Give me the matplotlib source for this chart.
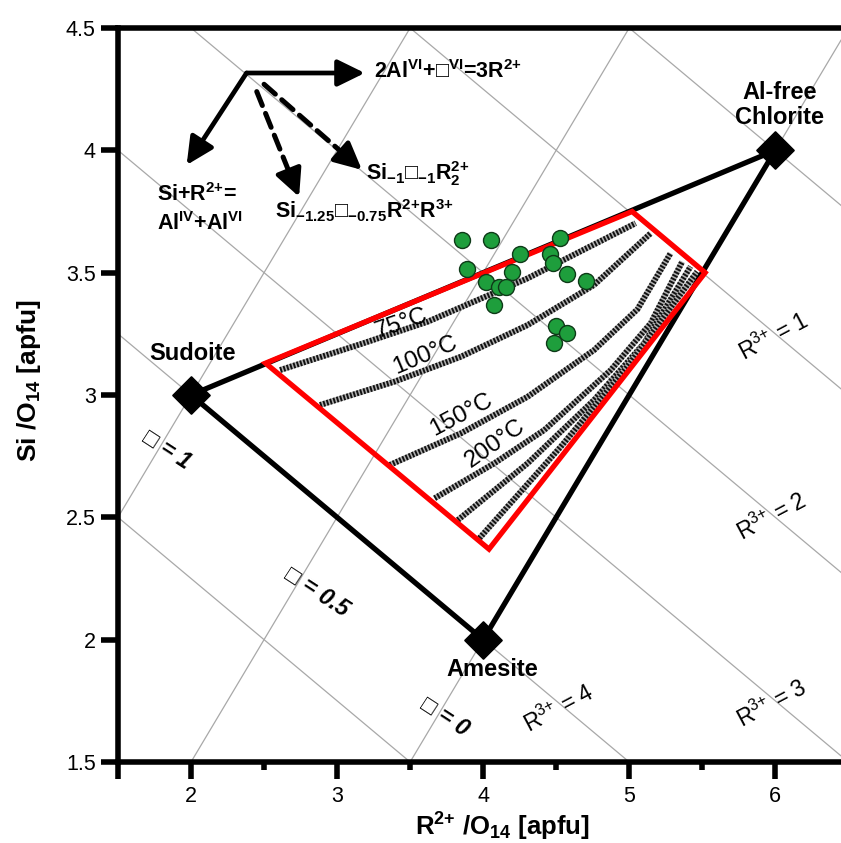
import matplotlib
matplotlib.use('Agg')
import matplotlib.pyplot as plt

plt.rcParams['font.family'] = ['Liberation Sans', 'DejaVu Sans']
plt.rcParams['mathtext.fontset'] = 'custom'
plt.rcParams['mathtext.rm'] = 'Liberation Sans'
plt.rcParams['mathtext.bf'] = 'Liberation Sans:bold'
plt.rcParams['mathtext.it'] = 'Liberation Sans:italic'

# end members (R2+, Si)
em_names = ['Sudoite', 'Amesite', 'Al-free\nChlorite']
em_r2 = [2, 4, 6]
em_si = [3, 2, 4]

# red field
field_r2 = [2.51, 5.02, 5.52, 4.04]
field_si = [3.13, 3.75, 3.50, 2.37]

# isotherms
iso_r2 = [
    [2.610, 3.167, 3.622, 4.305, 5.044],
    [2.883, 3.395, 3.850, 4.305, 4.760, 5.147],
    [3.361, 3.850, 4.305, 4.760, 5.056, 5.283],
    [3.668, 4.077, 4.419, 4.874, 5.147, 5.363],
    [3.827, 4.305, 4.760, 5.101, 5.420],
    [3.975, 4.532, 4.987, 5.465],
]
iso_si = [
    [3.102, 3.209, 3.300, 3.477, 3.702],
    [2.959, 3.055, 3.157, 3.286, 3.450, 3.661],
    [2.714, 2.844, 2.993, 3.184, 3.350, 3.579],
    [2.578, 2.721, 2.857, 3.102, 3.293, 3.545],
    [2.489, 2.721, 2.980, 3.211, 3.525],
    [2.415, 2.789, 3.116, 3.504],
]
iso_labels = ['75°C', '100°C', '150°C', '200°C']
iso_lab_r2 = [3.44, 3.60, 3.85, 4.08]
iso_lab_si = [3.293, 3.164, 2.918, 2.803]
iso_lab_rot = [19, 23, 28, 35]

# samples
sample_r2 = [3.857, 4.055, 4.255, 4.528, 3.891, 4.198, 4.459, 4.478, 4.573,
             4.705, 4.020, 4.107, 4.157, 4.077, 4.498, 4.573, 4.482]
sample_si = [3.634, 3.634, 3.575, 3.643, 3.514, 3.503, 3.575, 3.541, 3.495,
             3.467, 3.462, 3.443, 3.440, 3.368, 3.282, 3.255, 3.214]

# iso-lines: vacancies and R3+
vac_levels = [0, 0.5, 1]
r3_levels = [0, 1, 2, 3, 4, 5]

# superscript charges without operator spacing
P2 = r'^{\mathbf{2}\mathbf{{+}}}'
P3 = r'^{\mathbf{3}\mathbf{{+}}}'

fig = plt.figure(figsize=(8.41, 8.43), dpi=100)
ax = fig.add_axes([0.1403, 0.0961, 0.8597, 0.8707])
ax.set_xlim(1.5, 6.45)
ax.set_ylim(1.5, 4.5)

for v in vac_levels:
    # Si = R2+ + 3*vac - 2
    ax.axline((2, 3 * v), slope=1, color='#a8a8a8', lw=0.9, zorder=1)
for r in r3_levels:
    # Si = 7 - 0.75*R3+ - 0.5*R2+
    ax.axline((0, 7 - 0.75 * r), slope=-0.5, color='#a8a8a8', lw=0.9, zorder=1)

# isotherms
for xs, ys in zip(iso_r2, iso_si):
    ax.plot(xs, ys, color='#b0b0b0', lw=4.2, solid_capstyle='butt',
            solid_joinstyle='round', zorder=2)
    ax.plot(xs, ys, color='#111111', lw=4.2, dashes=(0.33, 0.27),
            dash_capstyle='butt', zorder=2)
for lab, x, y, rot in zip(iso_labels, iso_lab_r2, iso_lab_si, iso_lab_rot):
    ax.text(x, y, lab, fontsize=17.5, rotation=rot, ha='center', va='center',
            rotation_mode='anchor', zorder=7)

# black triangle
ax.plot(em_r2 + em_r2[:1], em_si + em_si[:1], color='black', lw=3.8, zorder=3)
ax.plot(em_r2, em_si, ls='none', marker=(4, 0, 0), ms=27, color='black', zorder=5)

# red field
ax.fill(field_r2, field_si, facecolor='none', edgecolor='#ff0000', lw=3.8,
        joinstyle='miter', zorder=4)

# samples
ax.plot(sample_r2, sample_si, ls='none', marker='o', ms=11.5, mfc='#1e9e3c',
        mec='#0e3a18', mew=1.0, zorder=6)

# end-member labels
ax.text(2.007, 3.17, em_names[0], fontsize=17, fontweight='bold', ha='center', va='center')
ax.text(4.06, 1.876, em_names[1], fontsize=17, fontweight='bold', ha='center', va='center')
ax.text(6.03, 4.185, em_names[2], fontsize=17, fontweight='bold', ha='center', va='center',
        linespacing=1.1)

# iso-line labels
vac_text = ['□ = 0', '□ = 0.5', '□ = 1']
vac_r2 = [3.736, 2.86, 1.836]
vac_si = [1.686, 2.196, 2.775]
for lab, x, y in zip(vac_text, vac_r2, vac_si):
    ax.text(x, y, lab, fontsize=16.5, fontweight='bold', fontstyle='italic',
            rotation=-33, ha='center', va='center', rotation_mode='anchor')

r3_text = [r'R$^{\mathrm{3}\mathrm{{+}}}$ = ' + n for n in ['1', '2', '3', '4']]
r3_r2 = [5.99, 5.977, 5.977, 4.52]
r3_si = [3.237, 2.503, 1.74, 1.72]
for lab, x, y in zip(r3_text, r3_r2, r3_si):
    ax.text(x, y, lab, fontsize=16.5, rotation=28, ha='center', va='center',
            rotation_mode='anchor')

# substitution vectors
solid = dict(arrowstyle='-|>,head_length=0.55,head_width=0.27', color='black',
             lw=3.4, mutation_scale=30, shrinkA=0, shrinkB=0)
shaft = dict(arrowstyle='-', color='black', lw=3.6, linestyle=(0, (3.0, 1.7)),
             shrinkA=0, shrinkB=0)
ax.annotate('', xy=(3.19, 4.316), xytext=(2.38, 4.316), arrowprops=solid)
ax.annotate('', xy=(1.97, 3.94), xytext=(2.38, 4.316), arrowprops=solid)

dash_start = [(2.45, 4.24), (2.50, 4.27)]
dash_end = [(2.74, 3.81), (3.17, 3.92)]
for (x0, y0), (x1, y1) in zip(dash_start, dash_end):
    xm, ym = x0 + 0.8 * (x1 - x0), y0 + 0.8 * (y1 - y0)
    ax.annotate('', xy=(xm, ym), xytext=(x0, y0), arrowprops=shaft)
    ax.annotate('', xy=(x1, y1), xytext=(xm, ym), arrowprops=solid)

bold = dict(fontsize=15.5, fontweight='bold', ha='left', va='center')
ax.text(3.25, 4.32, r'2Al$^{\mathbf{VI}}$+□$^{\mathbf{VI}}$=3R$' + P2 + '$', **bold)
ax.text(1.77, 3.818, r'Si+R$' + P2 + '$=', **bold)
ax.text(1.77, 3.70, r'Al$^{\mathbf{IV}}$+Al$^{\mathbf{VI}}$', **bold)
ax.text(3.20, 3.907, r'Si$_{\mathbf{-1}}$□$_{\mathbf{-1}}$R$_{\mathbf{2}}' + P2 + '$', **bold)
ax.text(2.573, 3.752, r'Si$_{\mathbf{-1.25}}$□$_{\mathbf{-0.75}}$R$' + P2 + '$R$' + P3 + '$', **bold)

# axes styling
for side in ['left', 'bottom', 'top']:
    ax.spines[side].set_linewidth(4)
ax.spines['right'].set_visible(False)
ax.set_xticks([1.5, 2, 3, 4, 5, 6])
ax.set_xticklabels(['', '2', '3', '4', '5', '6'])
ax.set_xticks([2.5, 3.5, 4.5, 5.5], minor=True)
ax.set_yticks([1.5, 2, 2.5, 3, 3.5, 4, 4.5])
ax.set_yticklabels(['1.5', '2', '2.5', '3', '3.5', '4', '4.5'])
ax.tick_params(which='major', direction='out', length=12.5, width=4, labelsize=15.5)
ax.tick_params(axis='x', which='major', pad=5)
ax.tick_params(axis='y', which='major', pad=3.5)
ax.tick_params(which='minor', direction='out', length=6, width=4)

ax.set_xlabel(r'R$' + P2 + r'$ /O$_{\mathbf{14}}$ [apfu]', fontsize=18.5, fontweight='bold')
ax.set_ylabel(r'Si /O$_{\mathbf{14}}$ [apfu]', fontsize=19, fontweight='bold')
ax.xaxis.set_label_coords(0.532, -0.067)
ax.yaxis.set_label_coords(-0.104, 0.52)

fig.savefig('out.png', dpi=100)
